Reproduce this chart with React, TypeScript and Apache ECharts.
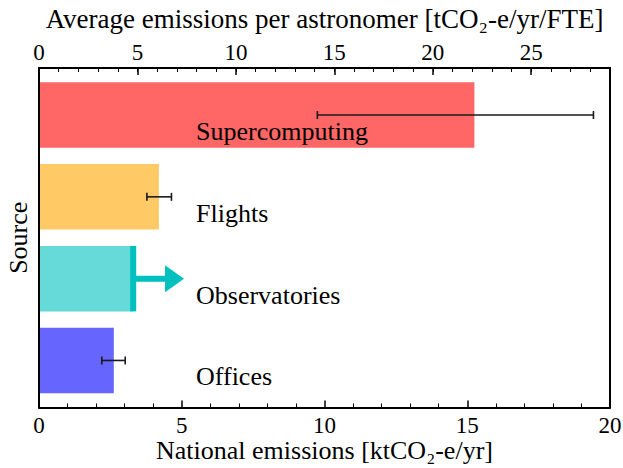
import React, { useEffect, useRef } from "react";
import * as echarts from "echarts";

// ---- data ----
const categories = ["Supercomputing", "Flights", "Observatories", "Offices"];
const values = [15.25, 4.2, 3.3, 2.62];
const errLow: (number | null)[] = [9.75, 3.78, null, 2.2];
const errHigh: (number | null)[] = [19.42, 4.64, null, 3.02];
const lowerBoundTip: (number | null)[] = [null, null, 5.08, null];
const barColors = ["#ff6666", "#ffc966", "#66d9d9", "#6666ff"];
const bottomTicks = [0, 5, 10, 15, 20];
const topTicks = [0, 5, 10, 15, 20, 25];
const bottomMax = 20;
const topMax = 29;

const FONT = "'Liberation Serif', serif";
const FS = 26;
const TOPFS = 27;
const TFS = 23;

export default function App() {
  const ref = useRef<HTMLDivElement>(null);
  useEffect(() => {
    if (!ref.current) return;
    const chart = echarts.init(ref.current, undefined, { renderer: "svg" });
    const labelX = 5.5;
    const labelDy = 0.2;

    const barData = categories.map((c, i) => [i, values[i]]);
    const errData = categories
      .map((c, i) => (errLow[i] != null ? [i, errLow[i], errHigh[i]] : null))
      .filter((d) => d) as number[][];
    const arrowData = categories
      .map((c, i) => (lowerBoundTip[i] != null ? [i, values[i], lowerBoundTip[i]] : null))
      .filter((d) => d) as number[][];
    const labelData = categories.map((c, i) => [i, labelX]);

    const axisLineStyle = { color: "#000", width: 2 };

    const option: any = {
      animation: false,
      textStyle: { fontFamily: FONT },
      grid: { left: 39, right: 13, top: 68, bottom: 60.5, containLabel: false, outerBoundsMode: "none" },
      xAxis: [
        {
          type: "value",
          position: "bottom",
          min: 0,
          max: bottomMax,
          interval: 5,
          z: 5,
          axisLine: { show: true, onZero: false, lineStyle: axisLineStyle },
          axisTick: { show: true, inside: true, length: 7, lineStyle: { color: "#000", width: 1.5 } },
          minorTick: { show: true, splitNumber: 5, length: 4, lineStyle: { color: "#000", width: 1 } },
          splitLine: { show: false },
          minorSplitLine: { show: false },
          axisLabel: {
            color: "#000",
            fontFamily: FONT,
            fontSize: TFS,
            margin: 6,
            formatter: (v: number) => (bottomTicks.includes(v) ? String(v) : ""),
          },
          name: "National emissions [ktCO₂-e/yr]",
          nameLocation: "middle",
          nameGap: 30,
          nameMoveOverlap: false,
          nameTextStyle: { color: "#000", fontFamily: FONT, fontSize: FS },
        },
        {
          type: "value",
          position: "top",
          min: 0,
          max: topMax,
          interval: 1,
          z: 5,
          axisLine: { show: true, onZero: false, lineStyle: axisLineStyle },
          axisTick: { show: true, inside: true, length: 4, lineStyle: { color: "#000", width: 1 } },
          splitLine: { show: false },
          axisLabel: {
            color: "#000",
            fontFamily: FONT,
            fontSize: TFS,
            margin: 4,
            showMaxLabel: false,
            formatter: (v: number) => (topTicks.includes(v) ? String(v) : ""),
          },
          name: "Average emissions per astronomer [tCO₂-e/yr/FTE]",
          nameLocation: "middle",
          nameGap: 36,
          nameMoveOverlap: false,
          nameTextStyle: { color: "#000", fontFamily: FONT, fontSize: TOPFS },
        },
        {
          type: "value",
          position: "top",
          min: 0,
          max: topMax,
          interval: 5,
          z: 5,
          axisLine: { show: false, onZero: false },
          axisTick: { show: true, inside: true, length: 7, lineStyle: { color: "#000", width: 1.5 } },
          splitLine: { show: false },
          axisLabel: { show: false },
        },
      ],
      yAxis: [
        {
          type: "value",
          position: "left",
          min: -0.575,
          max: 3.575,
          inverse: true,
          z: 5,
          axisLine: { show: true, onZero: false, lineStyle: axisLineStyle },
          axisTick: { show: false },
          axisLabel: { show: false },
          splitLine: { show: false },
          name: "Source",
          nameLocation: "middle",
          nameRotate: 90,
          nameGap: 8,
          nameMoveOverlap: false,
          nameTextStyle: { color: "#000", fontFamily: FONT, fontSize: FS },
        },
        {
          type: "value",
          position: "right",
          min: -0.575,
          max: 3.575,
          inverse: true,
          z: 5,
          axisLine: { show: true, onZero: false, lineStyle: axisLineStyle },
          axisTick: { show: false },
          axisLabel: { show: false },
          splitLine: { show: false },
        },
      ],
      series: [
        {
          type: "custom",
          name: "bars",
          xAxisIndex: 0,
          yAxisIndex: 0,
          data: barData,
          renderItem: (params: any, api: any) => {
            const i = api.value(0);
            const v = api.value(1);
            const p0 = api.coord([0, i - 0.4]);
            const p1 = api.coord([v, i + 0.4]);
            return {
              type: "rect",
              shape: {
                x: Math.min(p0[0], p1[0]),
                y: Math.min(p0[1], p1[1]),
                width: Math.abs(p1[0] - p0[0]),
                height: Math.abs(p1[1] - p0[1]),
              },
              style: { fill: barColors[i] },
            };
          },
        },
        {
          type: "custom",
          name: "errors",
          xAxisIndex: 0,
          yAxisIndex: 0,
          z: 3,
          data: errData,
          renderItem: (params: any, api: any) => {
            const i = api.value(0);
            const a = api.coord([api.value(1), i]);
            const b = api.coord([api.value(2), i]);
            const cap = 4;
            const st = { stroke: "#1a1a1a", lineWidth: 1.6 };
            return {
              type: "group",
              children: [
                { type: "line", shape: { x1: a[0], y1: a[1], x2: b[0], y2: b[1] }, style: st },
                { type: "line", shape: { x1: a[0], y1: a[1] - cap, x2: a[0], y2: a[1] + cap }, style: st },
                { type: "line", shape: { x1: b[0], y1: b[1] - cap, x2: b[0], y2: b[1] + cap }, style: st },
              ],
            };
          },
        },
        {
          type: "custom",
          name: "lowerBound",
          xAxisIndex: 0,
          yAxisIndex: 0,
          z: 3,
          data: arrowData,
          renderItem: (params: any, api: any) => {
            const i = api.value(0);
            const base = api.coord([api.value(1), i]);
            const tip = api.coord([api.value(2), i]);
            const top = api.coord([api.value(1), i - 0.4]);
            const bot = api.coord([api.value(1), i + 0.4]);
            const col = "#00bfbf";
            const headLen = 19;
            const headHalf = 13.5;
            const shaftHalf = 3;
            const hx = tip[0] - headLen;
            return {
              type: "group",
              children: [
                {
                  type: "rect",
                  shape: { x: base[0] - 3, y: Math.min(top[1], bot[1]), width: 6, height: Math.abs(bot[1] - top[1]) },
                  style: { fill: col },
                },
                {
                  type: "polygon",
                  shape: {
                    points: [
                      [base[0], base[1] - shaftHalf],
                      [hx, base[1] - shaftHalf],
                      [hx, base[1] - headHalf],
                      [tip[0], tip[1]],
                      [hx, base[1] + headHalf],
                      [hx, base[1] + shaftHalf],
                      [base[0], base[1] + shaftHalf],
                    ],
                  },
                  style: { fill: col },
                },
              ],
            };
          },
        },
        {
          type: "custom",
          name: "labels",
          xAxisIndex: 0,
          yAxisIndex: 0,
          z: 4,
          data: labelData,
          renderItem: (params: any, api: any) => {
            const i = api.value(0);
            const p = api.coord([api.value(1), i + labelDy]);
            return {
              type: "text",
              x: p[0],
              y: p[1],
              style: {
                text: categories[i],
                fill: "#000",
                fontFamily: FONT,
                fontSize: FS,
                verticalAlign: "middle",
                align: "left",
              },
            };
          },
        },
      ],
    };
    chart.setOption(option);
    return () => chart.dispose();
  }, []);
  return (
    <div
      ref={ref}
      style={{ position: "fixed", left: 0, top: 0, width: 623, height: 468, background: "#fff" }}
    />
  );
}
